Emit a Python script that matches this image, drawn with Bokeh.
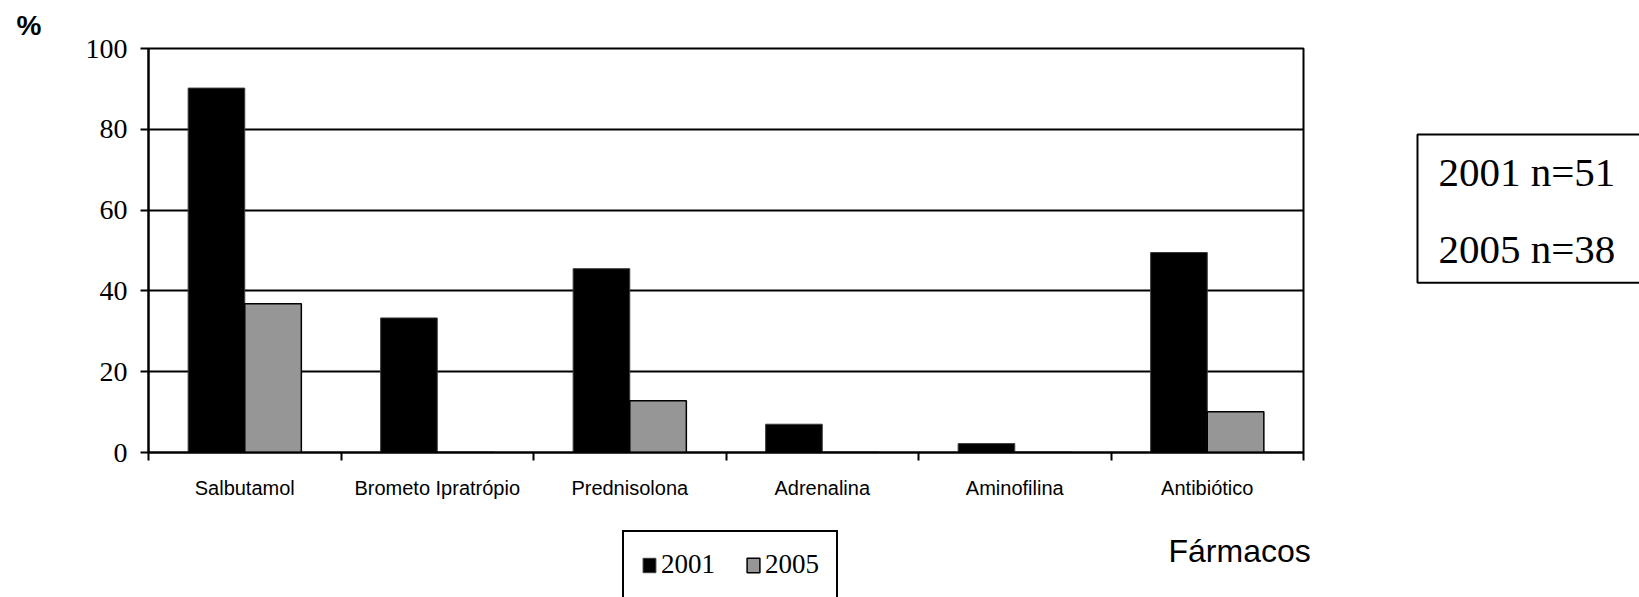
from bokeh.plotting import figure
from bokeh.layouts import row, column
from bokeh.models import Range1d, FixedTicker, Label, Legend, LegendItem
from bokeh.embed import file_html
from bokeh.resources import INLINE

# Percentage of patients receiving each drug, per survey year
categories = ["Salbutamol", "Brometo Ipratrópio", "Prednisolona",
              "Adrenalina", "Aminofilina", "Antibiótico"]
pct_2001 = [90.2, 33.3, 45.5, 7.0, 2.2, 49.5]
pct_2005 = [36.8, 0.0, 12.8, 0.0, 0.0, 10.1]
series_labels = ["2001", "2005"]
sample_notes = ["2001 n=51", "2005 n=38"]
y_ticks = [0, 20, 40, 60, 80, 100]

FILL_2001 = "black"
FILL_2005 = "#969696"

n = len(categories)
bar_w = 0.294
x_2001 = [i - bar_w / 2 for i in range(n)]
x_2005 = [i + bar_w / 2 for i in range(n)]

# ---- main bar chart -------------------------------------------------------
p = figure(width=1415, height=520, output_backend="svg", toolbar_location=None,
           x_range=Range1d(-0.5, n - 0.5), y_range=Range1d(0, 100),
           min_border_left=148, min_border_right=112,
           min_border_top=48, min_border_bottom=68)
p.background_fill_color = "white"
p.border_fill_color = "white"
p.outline_line_color = "black"
p.outline_line_width = 2

p.title.text = "%"
p.title.align = "left"
p.title.offset = -132
p.title.standoff = 15
p.title.text_font = "Liberation Sans"
p.title.text_font_style = "bold"
p.title.text_font_size = "28px"
p.title.text_color = "black"

# x axis: labels at category centres, tick marks at category boundaries
xa = p.xaxis[0]
xa.ticker = FixedTicker(ticks=list(range(n)),
                        minor_ticks=[i - 0.5 for i in range(n + 1)])
xa.major_label_overrides = {i: c for i, c in enumerate(categories)}
xa.major_tick_in = 0
xa.major_tick_out = 0
xa.minor_tick_in = 0
xa.minor_tick_out = 8
xa.minor_tick_line_color = "black"
xa.minor_tick_line_width = 2
xa.axis_line_color = "black"
xa.axis_line_width = 2
xa.major_label_standoff = 16
xa.major_label_text_font = "Liberation Sans"
xa.major_label_text_font_size = "20px"
xa.major_label_text_color = "black"

ya = p.yaxis[0]
ya.ticker = FixedTicker(ticks=y_ticks, minor_ticks=[])
ya.major_tick_in = 0
ya.major_tick_out = 8
ya.major_tick_line_color = "black"
ya.major_tick_line_width = 2
ya.axis_line_color = "black"
ya.axis_line_width = 2
ya.major_label_standoff = 13
ya.major_label_text_font = "Liberation Serif"
ya.major_label_text_font_size = "28px"
ya.major_label_text_color = "black"

p.xgrid.visible = False
p.ygrid.ticker = FixedTicker(ticks=y_ticks, minor_ticks=[])
p.ygrid.grid_line_color = "black"
p.ygrid.grid_line_width = 2

bar_2001 = dict(fill_color=FILL_2001, line_color="#3a3a3a", line_width=1)
bar_2005 = dict(fill_color=FILL_2005, line_color="black", line_width=1.5)
p.vbar(x=x_2001, top=pct_2001, width=bar_w, bottom=0, **bar_2001)
p.vbar(x=x_2005, top=pct_2005, width=bar_w, bottom=0, **bar_2005)

# ---- sample-size box on the right (frame shares the chart's top/bottom) ---
side = figure(width=224, height=520, output_backend="svg", toolbar_location=None,
              x_axis_type=None, y_axis_type=None,
              x_range=Range1d(0, 1), y_range=Range1d(0, 1),
              min_border=0, outline_line_color=None)
side.grid.visible = False
side.add_layout(Label(x=2, y=318, x_units="screen", y_units="screen",
                      text="\n".join(sample_notes),
                      text_baseline="top", text_align="left",
                      text_line_height=1.68,
                      text_font="Liberation Serif", text_font_size="41px",
                      text_color="black",
                      border_line_color="black", border_line_width=2,
                      padding=dict(left=21, right=300, top=14, bottom=11)))

# ---- bottom strip: legend and x title -------------------------------------
foot = figure(width=1639, height=77, output_backend="svg", toolbar_location=None,
              x_axis_type=None, y_axis_type=None,
              x_range=Range1d(0, 1), y_range=Range1d(0, 1),
              min_border=0, outline_line_color=None)
foot.grid.visible = False
# the chart's series again, hidden here: only their legend keys are shown
k1 = foot.vbar(x=x_2001, top=pct_2001, width=bar_w, bottom=0, visible=False, **bar_2001)
k2 = foot.vbar(x=x_2005, top=pct_2005, width=bar_w, bottom=0, visible=False, **bar_2005)
legend = Legend(items=[LegendItem(label=series_labels[0], renderers=[k1]),
                       LegendItem(label=series_labels[1], renderers=[k2])],
                orientation="horizontal", location=(622, -2), margin=0,
                padding=17, spacing=30, label_standoff=4,
                glyph_width=16, glyph_height=18,
                label_text_font="Liberation Serif", label_text_font_size="27px",
                label_text_color="black",
                inactive_fill_alpha=0,
                border_line_color="black", border_line_alpha=1, border_line_width=2,
                background_fill_color="white", background_fill_alpha=1)
foot.add_layout(legend, "center")
foot.add_layout(Label(x=1168, y=29, x_units="screen", y_units="screen", text="Fármacos",
                      text_font="Liberation Sans", text_font_size="32px",
                      text_color="black"))

page = column(row(p, side), foot)
open("out.html", "w").write(file_html(page, INLINE))
